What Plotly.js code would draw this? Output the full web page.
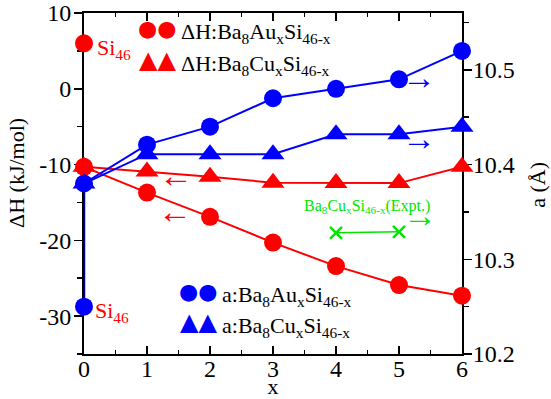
<!DOCTYPE html>
<html>
<head>
<meta charset="utf-8">
<script src="https://cdn.plot.ly/plotly-3.0.1.min.js"></script>
<style>html,body{margin:0;padding:0;background:#fff;}</style>
</head>
<body>
<div id="chart" style="width:551px;height:399px;"></div>
<script>
// ---- data ----
const xComp = [0, 1, 2, 3, 4, 5, 6];
const dH_Au = [-10.3, -13.7, -16.9, -20.3, -23.4, -25.9, -27.3];
const dH_Cu = [-10.3, -10.9, -11.6, -12.4, -12.45, -12.45, -10.3];
const a_Au = [10.38, 10.421, 10.44, 10.47, 10.48, 10.49, 10.52];
const a_Cu = [10.38, 10.411, 10.411, 10.411, 10.432, 10.432, 10.44];
const xExpt = [4, 5];
const a_Expt = [10.328, 10.329];
const si46_x = [0];
const si46_dH = [6.0];
const si46_a = [10.25];
const xTicks = [0, 1, 2, 3, 4, 5, 6];
const yTicks = [10, 0, -10, -20, -30];
const yTickText = ["10", "0", "-10", "-20", "-30"];
const y2Ticks = [10.2, 10.3, 10.4, 10.5];
const y2TickText = ["10.2", "10.3", "10.4", "10.5"];

const RED = '#ff0000', BLUE = '#0000ff', GREEN = '#00e600';
const SERIF = 'Liberation Serif';

const traces = [
  {x: xComp, y: dH_Au, mode: 'lines+markers', line: {color: RED, width: 2},
   marker: {symbol: 'circle', size: 18, color: RED}, cliponaxis: false},
  {x: xComp, y: dH_Cu, mode: 'lines+markers', line: {color: RED, width: 2},
   marker: {symbol: 'triangle-up', size: 20, color: RED}, cliponaxis: false},
  {x: si46_x, y: si46_dH, mode: 'markers', marker: {symbol: 'circle', size: 18, color: RED}, cliponaxis: false},
  {x: [si46_x[0], xComp[0]], y: [si46_a[0], a_Au[0]], yaxis: 'y2', mode: 'lines',
   line: {color: '#000088', width: 2.5}, cliponaxis: false},
  {x: xComp, y: a_Au, yaxis: 'y2', mode: 'lines+markers', line: {color: BLUE, width: 2},
   marker: {symbol: 'circle', size: 18, color: BLUE}, cliponaxis: false},
  {x: xComp, y: a_Cu, yaxis: 'y2', mode: 'lines+markers', line: {color: BLUE, width: 2},
   marker: {symbol: 'triangle-up', size: 20, color: BLUE}, cliponaxis: false},
  {x: si46_x, y: si46_a, yaxis: 'y2', mode: 'markers', marker: {symbol: 'circle', size: 18, color: BLUE}, cliponaxis: false},
  {x: xExpt, y: a_Expt, yaxis: 'y2', mode: 'lines+markers', line: {color: GREEN, width: 1.5},
   marker: {symbol: 'x-thin', size: 12, line: {color: GREEN, width: 2.5}}, cliponaxis: false}
];

function ann(text, x, y, color, size, opts) {
  return Object.assign({text: text, x: x, y: y, xref: 'x', yref: 'y', showarrow: false,
    xanchor: 'left', yanchor: 'middle', font: {family: SERIF, size: size, color: color}}, opts || {});
}
const symFont = 'DejaVu Sans';
const annotations = [
  // legend top
  ann('●●', 1.16, 8.0, RED, 22, {xanchor: 'center', font: {family: symFont, size: 22, color: RED}}),
  ann('ΔH:Ba<sub>8</sub>Au<sub>x</sub>Si<sub>46-x</sub>', 1.51, 7.4, 'black', 22),
  ann('▲▲', 1.16, 3.8, RED, 24, {xanchor: 'center', font: {family: symFont, size: 24, color: RED}}),
  ann('ΔH:Ba<sub>8</sub>Cu<sub>x</sub>Si<sub>46-x</sub>', 1.51, 3.1, 'black', 22),
  // legend bottom
  ann('●●', 1.81, -26.7, BLUE, 22, {xanchor: 'center', font: {family: symFont, size: 22, color: BLUE}}),
  ann('a:Ba<sub>8</sub>Au<sub>x</sub>Si<sub>46-x</sub>', 2.16, -27.4, 'black', 22),
  ann('▲▲', 1.81, -30.8, BLUE, 24, {xanchor: 'center', font: {family: symFont, size: 24, color: BLUE}}),
  ann('a:Ba<sub>8</sub>Cu<sub>x</sub>Si<sub>46-x</sub>', 2.16, -31.5, 'black', 22),
  // Si46 labels
  ann('Si<sub>46</sub>', 0.17, 5.2, RED, 22),
  ann('Si<sub>46</sub>', 0.14, -29.5, RED, 22),
  // expt label
  ann('Ba<sub>8</sub>Cu<sub>x</sub>Si<sub>46-x</sub>(Expt.)', 4.49, -15.6, GREEN, 16, {xanchor: 'center'}),
  // arrows
  ann('←', 1.46, -11.5, RED, 34, {xanchor: 'center'}),
  ann('←', 1.44, -16.2, RED, 34, {xanchor: 'center'}),
  ann('→', 5.32, 1.5, BLUE, 34, {xanchor: 'center'}),
  ann('→', 5.32, -6.5, BLUE, 34, {xanchor: 'center'}),
  ann('→', 5.33, -16.7, GREEN, 34, {xanchor: 'center'}),
  // axis titles
  {text: 'ΔH (kJ/mol)', xref: 'paper', yref: 'paper', x: -0.178, y: 0.53, textangle: -90,
   showarrow: false, xanchor: 'center', yanchor: 'middle', font: {family: SERIF, size: 22, color: 'black'}},
  {text: 'a (Å)', xref: 'paper', yref: 'paper', x: 1.2, y: 0.495, textangle: -90,
   showarrow: false, xanchor: 'center', yanchor: 'middle', font: {family: SERIF, size: 22, color: 'black'}}
];

const tickFont = {family: SERIF, size: 24, color: 'black'};
const layout = {
  width: 551, height: 399,
  margin: {l: 84, r: 89, t: 13, b: 45, pad: 0},
  paper_bgcolor: '#fff', plot_bgcolor: '#fff',
  showlegend: false,
  font: {family: SERIF, color: 'black'},
  xaxis: {
    range: [0, 6], tickmode: 'array', tickvals: xTicks, ticktext: xTicks.map(String),
    ticks: 'inside', ticklen: 8, tickwidth: 1.5, tickcolor: 'black',
    minor: {dtick: 0.5, tick0: 0, ticks: 'inside', ticklen: 4, tickwidth: 1.5, tickcolor: 'black', showgrid: false},
    showline: true, linewidth: 2, linecolor: 'black', mirror: 'ticks',
    showgrid: false, zeroline: false, tickfont: tickFont, layer: 'below traces',
    ticklabelstandoff: -8,
    title: {text: 'x', font: {family: SERIF, size: 22, color: 'black'}, standoff: 0}
  },
  yaxis: {
    range: [-35, 10], tickmode: 'array', tickvals: yTicks, ticktext: yTickText,
    ticks: 'outside', ticklen: 8, tickwidth: 1.5, tickcolor: 'black',
    minor: {dtick: 5, tick0: 0, ticks: 'outside', ticklen: 5, tickwidth: 1.5, tickcolor: 'black', showgrid: false},
    showline: true, linewidth: 2, linecolor: 'black', mirror: false,
    showgrid: false, zeroline: false, tickfont: tickFont, layer: 'below traces',
    ticklabelstandoff: -2
  },
  yaxis2: {
    overlaying: 'y', side: 'right',
    range: [10.2, 10.56], tickmode: 'array', tickvals: y2Ticks, ticktext: y2TickText,
    ticks: 'outside', ticklen: 8, tickwidth: 1.5, tickcolor: 'black',
    minor: {dtick: 0.05, tick0: 10.2, ticks: 'outside', ticklen: 5, tickwidth: 1.5, tickcolor: 'black', showgrid: false},
    showline: true, linewidth: 2, linecolor: 'black',
    showgrid: false, zeroline: false, tickfont: tickFont, layer: 'below traces',
    ticklabelstandoff: -4
  },
  annotations: annotations
};

Plotly.newPlot('chart', traces, layout, {displayModeBar: false, staticPlot: true});
</script>
</body>
</html>
